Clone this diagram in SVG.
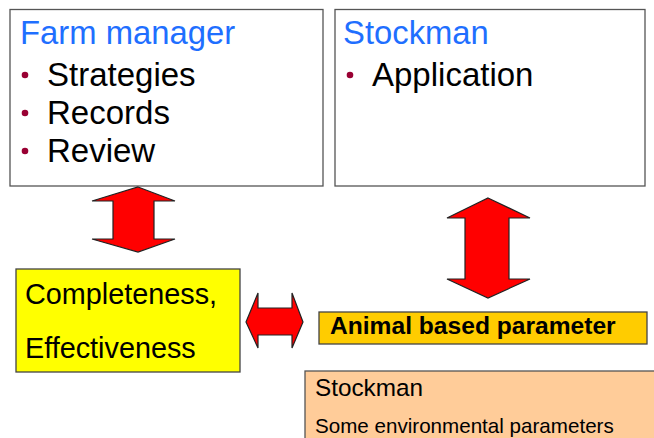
<svg xmlns="http://www.w3.org/2000/svg" width="654" height="438" viewBox="0 0 654 438">
<style>
text{font-family:"Liberation Sans",Arial,sans-serif}
.box{fill:#fff;stroke:#555;stroke-width:1.3}
.ttl{fill:#1f6fff;font-size:32.8px}
.item{fill:#000;font-size:33px}
.bul{fill:#990033}
.arr{fill:#ff0000;stroke:#222;stroke-width:1.2;stroke-linejoin:miter}
</style>
<rect width="654" height="438" fill="#fff"/>
<g id="farm-manager">
<rect class="box" x="10" y="9.5" width="313" height="176.5"/>
<text class="ttl" x="20" y="43.5">Farm manager</text>
<circle class="bul" cx="25" cy="75" r="3.3"/>
<circle class="bul" cx="25" cy="113" r="3.3"/>
<circle class="bul" cx="25" cy="151" r="3.3"/>
<text class="item" x="47" y="86">Strategies</text>
<text class="item" x="47" y="124">Records</text>
<text class="item" x="47" y="162">Review</text>
</g>
<g id="stockman-top">
<rect class="box" x="335" y="9.5" width="310" height="176.5"/>
<text class="ttl" x="343" y="43.5">Stockman</text>
<circle class="bul" cx="350" cy="75" r="3.3"/>
<text class="item" x="372" y="86">Application</text>
</g>
<g id="completeness">
<rect x="16" y="269" width="224" height="103" fill="#ffff00" stroke="#444" stroke-width="1.3"/>
<text x="25" y="303.5" font-size="28.8">Completeness,</text>
<text x="25" y="357.5" font-size="28.8">Effectiveness</text>
</g>
<g id="animal-based">
<rect x="319" y="312" width="328" height="32" fill="#ffcc00" stroke="#444" stroke-width="1.3"/>
<text x="330" y="333.5" font-size="24.6" font-weight="bold">Animal based parameter</text>
</g>
<g id="stockman-bottom">
<rect x="305" y="371" width="360" height="80" fill="#ffcc99" stroke="#555" stroke-width="1.3"/>
<text x="315" y="395.5" font-size="24.3">Stockman</text>
<text x="315" y="433" font-size="20.6">Some environmental parameters</text>
</g>
<g id="connectors">
<polygon class="arr" points="138,187 175,201 154,201 154,239 175,239 138,252 92,239 113,239 113,201 92,201"/>
<polygon class="arr" points="488,198 530,218 509,218 509,279 530,279 488,298 447,279 465,279 465,218 447,218"/>
<polygon class="arr" points="246,322 258,293 258,308 292,308 292,293 303,322 292,348 292,335 258,335 258,348"/>
</g>
</svg>
